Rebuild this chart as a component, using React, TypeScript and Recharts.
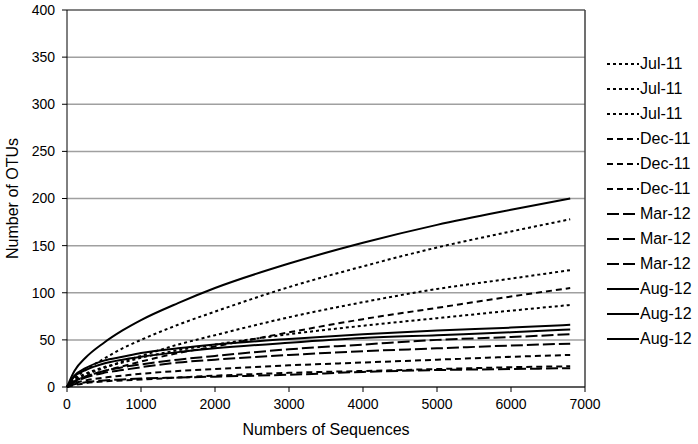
import {
    LineChart,
    Line,
    XAxis,
    YAxis,
    CartesianGrid,
    ReferenceLine,
} from "recharts";

// sequences sampled along each rarefaction curve
const seqCounts = [0, 100, 250, 500, 750, 1000, 1500, 2000, 3000, 4000, 5000, 6000, 6800];

// OTUs observed per sample
const jul11A = [0, 9, 18, 30, 41, 50, 66, 80, 106, 128, 148, 165, 178];
const jul11B = [0, 7, 13, 20, 27, 33, 45, 55, 74, 90, 104, 115, 124];
const jul11C = [0, 8, 14, 21, 26, 31, 39, 45, 56, 65, 73, 81, 87];
const dec11A = [0, 6, 11, 17, 22, 27, 36, 43, 58, 72, 84, 96, 105];
const dec11B = [0, 4, 7, 10, 12, 14, 17, 19, 23, 26, 29, 32, 34];
const dec11C = [0, 2, 4, 6, 7, 8, 10, 12, 15, 17, 19, 21, 22];
const mar12A = [0, 6, 11, 17, 21, 24, 29, 33, 40, 45, 50, 53, 56];
const mar12B = [0, 5, 10, 15, 18, 21, 26, 29, 34, 38, 41, 44, 46];
const mar12C = [0, 3, 5, 7, 8, 9, 10, 11, 13, 16, 18, 19, 20];
const aug12A = [0, 17, 31, 47, 60, 71, 89, 105, 131, 153, 172, 188, 200];
const aug12B = [0, 12, 20, 28, 32, 36, 41, 45, 51, 56, 60, 63, 66];
const aug12C = [0, 11, 18, 25, 29, 32, 37, 41, 47, 52, 55, 58, 61];

const xTicks = [0, 1000, 2000, 3000, 4000, 5000, 6000, 7000];
const yTicks = [0, 50, 100, 150, 200, 250, 300, 350, 400];

const dashByMonth: Record<string, string | undefined> = {
    "Jul-11": "3 3",
    "Dec-11": "6 4",
    "Mar-12": "12 4",
    "Aug-12": undefined,
};

const series = [
    { key: "jul11a", name: "Jul-11", values: jul11A },
    { key: "jul11b", name: "Jul-11", values: jul11B },
    { key: "jul11c", name: "Jul-11", values: jul11C },
    { key: "dec11a", name: "Dec-11", values: dec11A },
    { key: "dec11b", name: "Dec-11", values: dec11B },
    { key: "dec11c", name: "Dec-11", values: dec11C },
    { key: "mar12a", name: "Mar-12", values: mar12A },
    { key: "mar12b", name: "Mar-12", values: mar12B },
    { key: "mar12c", name: "Mar-12", values: mar12C },
    { key: "aug12a", name: "Aug-12", values: aug12A },
    { key: "aug12b", name: "Aug-12", values: aug12B },
    { key: "aug12c", name: "Aug-12", values: aug12C },
];

const rows = seqCounts.map((n, i) => {
    const row: Record<string, number> = { n };
    series.forEach((s) => {
        row[s.key] = s.values[i];
    });
    return row;
});

const font = '"Liberation Sans", Arial, sans-serif';

function SideLegend() {
    return (
        <div
            style={{
                position: "absolute",
                left: 606,
                top: 51,
                fontFamily: font,
                fontSize: 16,
                color: "#000",
            }}
        >
            {series.map((s) => (
                <div
                    key={s.key}
                    style={{ height: 25, display: "flex", alignItems: "center" }}
                >
                    <svg width={34} height={6} style={{ display: "block" }}>
                        <line
                            x1={1}
                            y1={3}
                            x2={33}
                            y2={3}
                            stroke="#000"
                            strokeWidth={2}
                            strokeDasharray={dashByMonth[s.name]}
                        />
                    </svg>
                    <span>{s.name}</span>
                </div>
            ))}
        </div>
    );
}

export default function App() {
    return (
        <div
            style={{
                position: "absolute",
                left: 0,
                top: 0,
                width: 698,
                height: 444,
                background: "#fff",
                fontFamily: font,
            }}
        >
            <LineChart
                width={698}
                height={444}
                data={rows}
                margin={{ top: 10, right: 113, bottom: 0, left: 0 }}
            >
                <CartesianGrid vertical={false} stroke="#a0a0a0" strokeWidth={1.5} />
                <XAxis
                    type="number"
                    dataKey="n"
                    domain={[0, 7000]}
                    ticks={xTicks}
                    height={57}
                    tickSize={5}
                    tickMargin={7}
                    stroke="#000"
                    tick={{ fill: "#000", fontSize: 14 }}
                    label={{
                        value: "Numbers of Sequences",
                        position: "insideBottom",
                        offset: 9,
                        fill: "#000",
                        fontSize: 16,
                    }}
                />
                <YAxis
                    type="number"
                    domain={[0, 400]}
                    ticks={yTicks}
                    width={67}
                    tickSize={5}
                    tickMargin={7}
                    stroke="#000"
                    tick={{ fill: "#000", fontSize: 14 }}
                    label={{
                        value: "Number of OTUs",
                        angle: -90,
                        position: "insideLeft",
                        offset: 12,
                        fill: "#000",
                        fontSize: 16,
                        style: { textAnchor: "middle" },
                    }}
                />
                <ReferenceLine y={400} stroke="#707070" strokeWidth={1.5} />
                <ReferenceLine x={7000} stroke="#404040" strokeWidth={1.5} />
                {series.map((s) => (
                    <Line
                        key={s.key}
                        type="monotone"
                        dataKey={s.key}
                        name={s.name}
                        stroke="#000"
                        strokeWidth={2}
                        strokeDasharray={dashByMonth[s.name]}
                        dot={false}
                        isAnimationActive={false}
                    />
                ))}
            </LineChart>
            <SideLegend />
        </div>
    );
}
